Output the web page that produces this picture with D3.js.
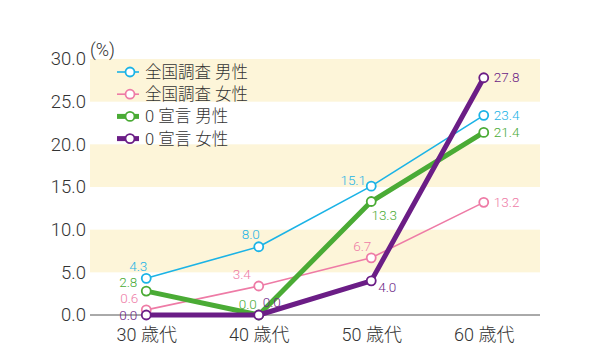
<!DOCTYPE html>
<html>
<head>
<meta charset="utf-8">
<script src="https://cdn.jsdelivr.net/npm/d3@7"></script>
<style>
  html, body { margin: 0; padding: 0; background: #fff; }
  svg text { font-family: Roboto, "Liberation Sans", "Noto Sans CJK JP", sans-serif; font-weight: 300; }
</style>
</head>
<body>
<svg id="chart" width="590" height="345"></svg>
<script>
// Age groups on the x axis
const categories = ["30 歳代", "40 歳代", "50 歳代", "60 歳代"];
// Percentage values per series
const nationalMale   = [4.3, 8.0, 15.1, 23.4];
const nationalFemale = [0.6, 3.4, 6.7, 13.2];
const zeroMale       = [2.8, 0.0, 13.3, 21.4];
const zeroFemale     = [0.0, 0.0, 4.0, 27.8];
const seriesNames = ["全国調査 男性", "全国調査 女性", "0 宣言 男性", "0 宣言 女性"];
const yTicks = [0, 5, 10, 15, 20, 25, 30];
const shadedBands = [[5, 10], [15, 20], [25, 30]];

// Styling and label placement per series
const series = [
  { name: seriesNames[0], values: nationalMale,   color: "#1bb3e6", width: 1.6,
    offsets: [[-8, -12], [-8, -12], [-18, -6], [10, 0]], anchors: ["middle","middle","middle","start"] },
  { name: seriesNames[1], values: nationalFemale, color: "#ee7ba6", width: 1.6,
    offsets: [[-17, -11.3], [-17, -12], [-9, -12], [10, 0]], anchors: ["middle","middle","middle","start"] },
  { name: seriesNames[2], values: zeroMale,       color: "#4aab35", width: 5,
    offsets: [[-18, -8.6], [-11, -11], [13, 14], [10, 0]], anchors: ["middle","middle","middle","start"] },
  { name: seriesNames[3], values: zeroFemale,     color: "#6b1d86", width: 5,
    offsets: [[-18, 0.3], [13, -13], [16, 6], [10, 0]], anchors: ["middle","middle","middle","start"] }
];

const svg = d3.select("#chart");
const mLeft = 90, mRight = 540, mTop = 59, mBottom = 315;

const x = d3.scalePoint().domain(categories).range([mLeft, mRight]).padding(0.5);
const y = d3.scaleLinear().domain([0, 30]).range([mBottom, mTop]);

// Alternating background bands
svg.append("g").selectAll("rect").data(shadedBands).join("rect")
  .attr("x", mLeft).attr("width", mRight - mLeft)
  .attr("y", d => y(d[1])).attr("height", d => y(d[0]) - y(d[1]))
  .attr("fill", "#fdf5d9");

// Y axis labels
const yAxis = d3.axisLeft(y).tickValues(yTicks).tickFormat(d3.format(".1f")).tickSize(0).tickPadding(4);
const yg = svg.append("g").attr("transform", `translate(${mLeft},0)`).call(yAxis);
yg.select(".domain").remove();
yg.selectAll("text").attr("font-size", 18.5).attr("fill", "#333")
  .attr("font-family", null);

// X axis with baseline
const xAxis = d3.axisBottom(x).tickSize(0).tickPadding(13);
const xg = svg.append("g").attr("transform", `translate(0,${mBottom})`).call(xAxis);
xg.select(".domain").attr("d", `M${mLeft},0H${mRight}`).attr("stroke", "#555").attr("stroke-width", 1);
xg.selectAll("text").attr("font-size", 18).attr("fill", "#333")
  .attr("font-family", null);

// Unit label
svg.append("text").attr("x", 90).attr("y", 56).attr("font-size", 18).attr("fill", "#333").text("(%)");

// Lines, points, value labels
const line = d3.line().x((d, i) => x(categories[i])).y(d => y(d));
series.forEach(s => {
  const g = svg.append("g");
  g.append("path").datum(s.values).attr("d", line)
    .attr("fill", "none").attr("stroke", s.color).attr("stroke-width", s.width)
    .attr("stroke-linejoin", "round");
  g.selectAll("circle").data(s.values).join("circle")
    .attr("cx", (d, i) => x(categories[i])).attr("cy", d => y(d)).attr("r", 4.5)
    .attr("fill", "#fff").attr("stroke", s.color).attr("stroke-width", 1.8);
});
series.forEach(s => {
  svg.append("g").selectAll("text").data(s.values).join("text")
    .attr("x", (d, i) => x(categories[i]) + s.offsets[i][0])
    .attr("y", (d, i) => y(d) + s.offsets[i][1])
    .attr("dy", "0.35em").attr("text-anchor", (d, i) => s.anchors[i])
    .attr("font-size", 13.5).attr("fill", s.color)
    .text(d => d.toFixed(1));
});

// Legend
const legend = svg.append("g").attr("transform", "translate(117,72)");
series.forEach((s, i) => {
  const row = legend.append("g").attr("transform", `translate(0,${i * 22.2})`);
  row.append("line").attr("x1", 0).attr("x2", 22).attr("y1", 0).attr("y2", 0)
    .attr("stroke", s.color).attr("stroke-width", s.width);
  row.append("circle").attr("cx", 13).attr("cy", 0).attr("r", 4.5)
    .attr("fill", "#fff").attr("stroke", s.color).attr("stroke-width", 1.8);
  row.append("text").attr("x", 28).attr("y", 0).attr("dy", "0.36em")
    .attr("font-size", 16.5).attr("fill", "#333").text(s.name);
});
</script>
</body>
</html>
